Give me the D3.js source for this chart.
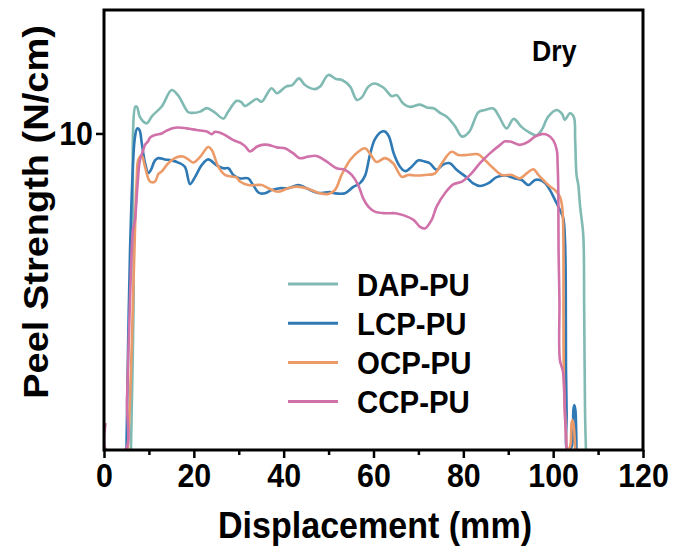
<!DOCTYPE html>
<html>
<head>
<meta charset="utf-8">
<script src="https://cdn.jsdelivr.net/npm/d3@7"></script>
<style>
  body { margin: 0; background: #fff; }
  svg { display: block; font-family: 'Liberation Sans', Arial, sans-serif; font-weight: bold; }
</style>
</head>
<body>
<div id="chart"></div>
<script>
// peel curves, [displacement mm, strength N/cm]
const dapPU = [[6.0, 0], [6.6, 4.7], [7.0, 10.85], [7.35, 10.84], [8.0, 10.52], [9.5, 10.32], [10.7, 10.55], [12.85, 10.85], [15.07, 11.37], [16.5, 11.2], [18.7, 10.68], [19.6, 10.65], [21.4, 10.69], [22.9, 10.8], [24.5, 10.68], [26.6, 10.47], [27.6, 10.68], [29.55, 11.03], [30.5, 11.0], [31.4, 10.87], [34.0, 11.09], [35.1, 11.0], [37.3, 11.43], [38.5, 11.27], [40.5, 11.48], [41.9, 11.53], [43.4, 11.74], [44.75, 11.53], [47.0, 11.4], [48.1, 11.48], [49.95, 11.85], [51.65, 11.72], [53.0, 11.69], [54.8, 11.48], [56.3, 11.06], [57.4, 11.14], [58.85, 11.48], [60.1, 11.58], [62.2, 11.45], [64.05, 11.18], [65.15, 11.21], [66.6, 10.95], [68.1, 10.84], [70.35, 10.91], [71.9, 10.82], [73.5, 10.79], [74.8, 10.65], [76.3, 10.53], [78.1, 10.24], [79.7, 9.9], [81.3, 10.05], [83.4, 10.68], [84.8, 10.74], [86.7, 10.79], [87.9, 10.55], [89.65, 10.16], [91.2, 10.46], [93.0, 10.2], [94.5, 10.05], [96.3, 9.94], [97.45, 10.11], [98.9, 10.53], [100.8, 10.74], [102.0, 10.61], [102.6, 10.43], [103.75, 10.64], [104.6, 10.52], [104.9, 9.79], [105.2, 8.69], [105.6, 8.37], [106.0, 7.69], [106.7, 6.79], [106.9, 4.53], [107.1, 1.16], [107.3, 0]]

const lcpPU = [[5.0, 0], [5.35, 3.16], [5.8, 6.32], [6.5, 9.16], [6.9, 9.89], [7.4, 10.16], [7.9, 10.11], [8.4, 9.7], [9.13, 9.07], [9.9, 8.75], [10.45, 8.85], [11.35, 9.15], [12.1, 9.22], [13.58, 9.18], [15.07, 9.15], [16.55, 9.08], [18.0, 8.95], [19.15, 8.4], [20.26, 8.62], [21.75, 9.0], [23.2, 9.18], [25.1, 8.99], [26.55, 8.9], [27.7, 8.9], [28.8, 8.69], [30.28, 8.58], [32.1, 8.58], [33.2, 8.37], [34.5, 8.12], [35.84, 8.11], [37.3, 8.21], [39.18, 8.27], [41.0, 8.27], [43.25, 8.37], [45.1, 8.27], [47.6, 8.12], [50.3, 8.15], [51.4, 8.11], [53.65, 8.11], [55.5, 8.31], [57.0, 8.43], [58.1, 8.66], [59.2, 9.32], [60.3, 9.81], [61.7, 10.05], [62.56, 10.06], [63.45, 9.9], [64.55, 9.35], [65.9, 8.95], [67.1, 8.81], [68.5, 8.95], [70.0, 9.15], [71.46, 9.11], [72.6, 9.05], [74.05, 8.85], [75.5, 9.02], [77.0, 9.06], [78.5, 8.85], [80.75, 8.61], [82.2, 8.42], [83.7, 8.34], [85.6, 8.43], [87.4, 8.62], [89.3, 8.67], [91.5, 8.58], [93.0, 8.53], [94.5, 8.37], [95.95, 8.53], [97.07, 8.53], [98.18, 8.43], [99.3, 8.21], [100.4, 7.9], [101.5, 7.58], [102.25, 7.33], [102.63, 6.63], [102.8, 5.37], [102.85, 2.63], [103.0, 1.16], [103.15, 0], [104.1, 0.1], [104.5, 1.26], [104.7, 1.42], [104.95, 1.26], [105.1, 0.74], [105.2, 0]]

const ocpPU = [[5.3, 0], [5.79, 1.58], [6.46, 4.74], [6.9, 6.95], [7.28, 8.53], [7.63, 9.16], [8.4, 9.3], [9.13, 8.95], [10.24, 8.48], [11.35, 8.48], [12.1, 8.72], [12.85, 8.8], [14.3, 9.06], [16.2, 9.25], [17.6, 9.27], [18.7, 9.19], [19.9, 9.08], [21.4, 9.26], [23.2, 9.57], [24.0, 9.48], [25.45, 8.95], [26.94, 8.69], [28.4, 8.64], [29.5, 8.61], [30.28, 8.48], [32.1, 8.37], [35.1, 8.37], [36.6, 8.27], [38.8, 8.16], [41.0, 8.27], [42.9, 8.32], [45.1, 8.27], [48.1, 8.11], [49.9, 8.09], [51.4, 8.21], [52.9, 8.69], [54.8, 9.16], [56.6, 9.42], [58.1, 9.53], [59.2, 9.37], [60.7, 9.1], [62.56, 9.22], [64.4, 9.05], [66.3, 8.63], [67.75, 8.69], [69.6, 8.67], [71.46, 8.69], [73.7, 8.74], [75.2, 9.06], [77.4, 9.42], [78.9, 9.32], [80.75, 9.32], [83.3, 9.34], [84.8, 9.16], [86.7, 8.9], [88.55, 8.69], [90.8, 8.69], [92.6, 8.58], [94.1, 8.74], [95.6, 8.87], [96.7, 8.69], [97.8, 8.53], [98.9, 8.37], [100.4, 8.21], [101.5, 8.0], [102.0, 7.69], [102.25, 6.95], [102.3, 4.33], [102.4, 2.21], [102.85, 0.54], [103.15, 0], [103.75, 0.1], [104.1, 0.85], [104.3, 0.95], [104.6, 0.73], [104.9, 0]]

const ccpPU = [[0.35, 0.85], [0.5, 0], [4.7, 0], [5.12, 1.58], [5.79, 4.74], [6.46, 6.95], [6.9, 7.27], [7.46, 8.37], [8.0, 9.16], [8.75, 9.48], [9.13, 9.64], [9.86, 9.76], [10.24, 9.87], [11.35, 9.95], [12.85, 10.0], [13.58, 10.06], [15.07, 10.16], [16.55, 10.19], [18.4, 10.16], [20.6, 10.11], [22.9, 10.06], [24.0, 9.98], [24.7, 10.05], [26.55, 9.98], [28.8, 9.79], [30.28, 9.71], [31.4, 9.6], [32.5, 9.43], [34.0, 9.58], [35.2, 9.64], [36.6, 9.64], [38.45, 9.56], [40.3, 9.53], [42.15, 9.37], [43.6, 9.22], [45.5, 9.27], [47.35, 9.29], [49.6, 9.11], [51.8, 8.9], [53.65, 8.85], [55.15, 8.69], [56.6, 8.37], [57.7, 7.95], [58.85, 7.69], [60.3, 7.53], [62.56, 7.48], [64.8, 7.48], [66.6, 7.42], [68.9, 7.27], [70.35, 7.05], [71.46, 7.0], [72.95, 7.27], [74.05, 7.69], [75.9, 8.11], [77.75, 8.39], [79.7, 8.48], [81.5, 8.69], [83.7, 9.06], [85.9, 9.37], [88.2, 9.64], [89.3, 9.75], [90.8, 9.73], [92.6, 9.64], [94.5, 9.74], [95.95, 9.9], [97.45, 9.98], [98.9, 9.94], [100.0, 9.79], [100.8, 9.48], [101.0, 9.0], [101.15, 8.12], [101.2, 6.32], [101.4, 4.74], [101.5, 2.84], [102.2, 2.46], [102.6, 1.17], [103.0, 0]]

const seriesNames = ['DAP-PU', 'LCP-PU', 'OCP-PU', 'CCP-PU']
const seriesData = [dapPU, lcpPU, ocpPU, ccpPU]
const xTicks = [0, 20, 40, 60, 80, 100, 120]
const xMinorTicks = [10, 30, 50, 70, 90, 110]
const yTicks = [10]

const colors = ['#80bab3', '#2f79b5', '#eb9a68', '#d071aa']

const width = 675
const height = 558
const margin = { top: 10, right: 32, bottom: 108, left: 104 }
const sx = 0.92 // fonts in the figure are a bit narrow

const svg = d3.select('#chart').append('svg')
  .attr('width', width)
  .attr('height', height)

const xScale = d3.scaleLinear()
  .domain([0, 120])
  .range([margin.left, width - margin.right])

const yScale = d3.scaleLinear()
  .domain([0, 13.9])
  .range([height - margin.bottom, margin.top])

// keep the curves inside the frame
svg.append('clipPath')
  .attr('id', 'plotClip')
  .append('rect')
  .attr('x', xScale(0))
  .attr('y', yScale(13.9))
  .attr('width', xScale(120) - xScale(0))
  .attr('height', yScale(0) - yScale(13.9))

// curves
const line = d3.line()
  .x(d => xScale(d[0]))
  .y(d => yScale(d[1]))
  .curve(d3.curveCatmullRom.alpha(0.5))

svg.append('g')
  .attr('clip-path', 'url(#plotClip)')
  .selectAll('path')
  .data(seriesData)
  .join('path')
  .attr('d', d => line(d))
  .attr('fill', 'none')
  .attr('stroke', (d, i) => colors[i])
  .attr('stroke-width', 2.6)
  .attr('stroke-linejoin', 'round')

// axes
const xAxis = svg.append('g')
  .attr('transform', `translate(0,${yScale(0)})`)
  .call(d3.axisBottom(xScale).tickValues(xTicks).tickSize(8).tickPadding(3))
xAxis.select('.domain').remove()
xAxis.selectAll('line').attr('stroke-width', 2.5)
xAxis.selectAll('text')
  .attr('fill', '#000')
  .style('font-size', '33px')
  .attr('dy', '0.8em')
  .attr('transform', `scale(${sx},1)`)

const xMinor = svg.append('g')
  .attr('transform', `translate(0,${yScale(0)})`)
  .call(d3.axisBottom(xScale).tickValues(xMinorTicks).tickSize(5).tickFormat(''))
xMinor.select('.domain').remove()
xMinor.selectAll('line').attr('stroke-width', 2.5)

const yAxis = svg.append('g')
  .attr('transform', `translate(${margin.left},0)`)
  .call(d3.axisLeft(yScale).tickValues(yTicks).tickSize(8).tickPadding(4))
yAxis.select('.domain').remove()
yAxis.selectAll('line').attr('stroke-width', 2.5)
yAxis.selectAll('text')
  .attr('fill', '#000')
  .style('font-size', '33px')
  .attr('transform', `scale(${sx},1)`)

// frame
svg.append('rect')
  .attr('x', xScale(0))
  .attr('y', yScale(13.9))
  .attr('width', xScale(120) - xScale(0))
  .attr('height', yScale(0) - yScale(13.9))
  .attr('fill', 'none')
  .attr('stroke', '#000')
  .attr('stroke-width', 3)

// axis titles
svg.append('text')
  .attr('transform', `translate(375,538) scale(${sx},1)`)
  .attr('text-anchor', 'middle')
  .style('font-size', '37px')
  .text('Displacement (mm)')

svg.append('text')
  .attr('transform', `translate(48,212) scale(${sx},1) rotate(-90)`)
  .attr('text-anchor', 'middle')
  .style('font-size', '38px')
  .text('Peel Strength (N/cm)')

svg.append('text')
  .attr('transform', `translate(532,61) scale(${sx},1)`)
  .style('font-size', '29px')
  .text('Dry')

// legend
const legend = svg.append('g')
  .attr('transform', 'translate(288,284)')

const items = legend.selectAll('g')
  .data(seriesNames)
  .join('g')
  .attr('transform', (d, i) => `translate(0,${i * 39.2})`)

items.append('line')
  .attr('x1', 0)
  .attr('x2', 50)
  .attr('stroke', (d, i) => colors[i])
  .attr('stroke-width', 3)

items.append('text')
  .attr('transform', `translate(69,0) scale(${sx},1)`)
  .attr('dy', '0.36em')
  .style('font-size', '32px')
  .text(d => d)
</script>
</body>
</html>
